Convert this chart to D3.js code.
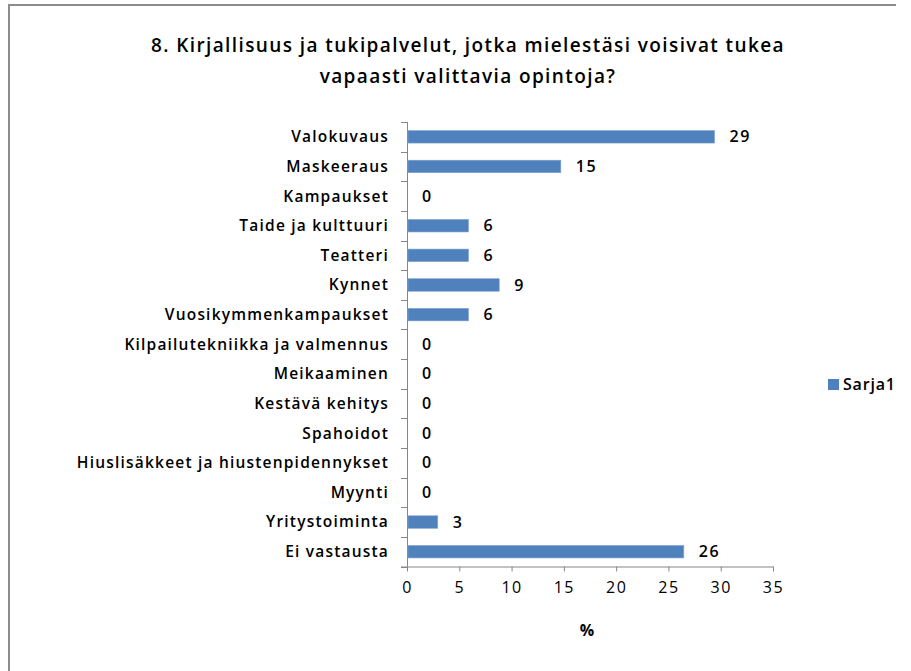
<!DOCTYPE html>
<html>
<head>
<meta charset="utf-8">
<script src="https://cdn.jsdelivr.net/npm/d3@7"></script>
<style>
  body { margin: 0; background: #fff; }
  svg { font-family: "Open Sans", Lato, sans-serif; }
</style>
</head>
<body>
<svg width="911" height="671"></svg>
<script>
// categories, top to bottom
var categories = ["Valokuvaus", "Maskeeraus", "Kampaukset", "Taide ja kulttuuri", "Teatteri",
  "Kynnet", "Vuosikymmenkampaukset", "Kilpailutekniikka ja valmennus", "Meikaaminen",
  "Kestävä kehitys", "Spahoidot", "Hiuslisäkkeet ja hiustenpidennykset", "Myynti",
  "Yritystoiminta", "Ei vastausta"];
// Sarja1, percent
var values = [29.41, 14.71, 0, 5.88, 5.88, 8.82, 5.88, 0, 0, 0, 0, 0, 0, 2.94, 26.47];
var xTicks = [0, 5, 10, 15, 20, 25, 30, 35];
var seriesName = "Sarja1";
var title = ["8. Kirjallisuus ja tukipalvelut, jotka mielestäsi voisivat tukea", "vapaasti valittavia opintoja?"];

var data = categories.map(function (c, i) { return {cat: c, val: values[i]}; });

var margin = {top: 122, left: 407};
var width = 366, height = 444.5;
var axisColor = "#868686";

var svg = d3.select("svg");

// frame
svg.append("path")
  .attr("d", "M9,671 V5 H896")
  .attr("fill", "none")
  .attr("stroke", "#8c8c8c")
  .attr("stroke-width", 2);

// title
svg.append("text")
  .attr("text-anchor", "middle")
  .attr("font-weight", 600)
  .attr("font-size", 19)
  .attr("letter-spacing", 1.4)
  .selectAll("tspan")
  .data(title)
  .enter().append("tspan")
    .attr("x", 468)
    .attr("y", function (d, i) { return 52 + i * 31; })
    .text(function (d) { return d; });

var x = d3.scaleLinear().domain([0, 35]).range([0, width]);
var y = d3.scaleBand().domain(categories).range([0, height]);

var main = svg.append("g")
  .attr("transform", "translate(" + margin.left + "," + margin.top + ")");

// x axis
var xAxis = main.append("g")
  .attr("transform", "translate(0," + height + ")")
  .call(d3.axisBottom(x).tickValues(xTicks).tickSize(5).tickSizeOuter(0).tickPadding(10));
xAxis.select(".domain").attr("stroke", axisColor).attr("d", "M-6,0.5H" + (width + 0.5));
xAxis.selectAll(".tick line").attr("stroke", axisColor);
xAxis.selectAll(".tick text")
  .attr("font-size", 16)
  .attr("letter-spacing", 1.5)
  .attr("font-family", "'Open Sans', sans-serif")
  .attr("fill", "#000");

// y axis, ticks at band boundaries
var yAxisG = main.append("g");
yAxisG.append("line")
  .attr("x1", 0.5).attr("x2", 0.5)
  .attr("y1", 0).attr("y2", height)
  .attr("stroke", axisColor);
yAxisG.selectAll("line.bt")
  .data(d3.range(categories.length + 1))
  .enter().append("line")
    .attr("class", "bt")
    .attr("x1", -6).attr("x2", 0)
    .attr("y1", function (i) { return Math.round(i * y.step()) + 0.5; })
    .attr("y2", function (i) { return Math.round(i * y.step()) + 0.5; })
    .attr("stroke", axisColor);
yAxisG.selectAll("text")
  .data(categories)
  .enter().append("text")
    .attr("x", -18)
    .attr("y", function (d) { return y(d) + y.bandwidth() / 2; })
    .attr("dy", "0.35em")
    .attr("text-anchor", "end")
    .attr("font-size", 15.5)
    .attr("font-weight", 600)
    .attr("letter-spacing", 1.2)
    .attr("fill", "#000")
    .text(function (d) { return d; });

// bars
var barH = 12.5;
main.selectAll("rect.bar")
  .data(data.filter(function (d) { return d.val > 0; }))
  .enter().append("rect")
    .attr("class", "bar")
    .attr("x", 1)
    .attr("y", function (d) { return y(d.cat) + y.bandwidth() / 2 - barH / 2; })
    .attr("width", function (d) { return x(d.val) - 1; })
    .attr("height", barH)
    .attr("fill", "#4f81bd")
    .attr("stroke", "#7fa3d0")
    .attr("stroke-width", 0.6);

// value labels
main.selectAll("text.val")
  .data(data)
  .enter().append("text")
    .attr("class", "val")
    .attr("x", function (d) { return x(d.val) + 15; })
    .attr("y", function (d) { return y(d.cat) + y.bandwidth() / 2; })
    .attr("dy", "0.35em")
    .attr("font-size", 16)
    .attr("font-weight", 600)
    .attr("letter-spacing", 1.5)
    .attr("fill", "#000")
    .text(function (d) { return d3.format(".0f")(d.val); });

// x axis title
svg.append("text")
  .attr("x", margin.left + x(17.5) - 3)
  .attr("y", 636)
  .attr("text-anchor", "middle")
  .attr("font-size", 16)
  .attr("font-weight", "bold")
  .text("%");

// legend
var legend = svg.append("g").attr("transform", "translate(828,379)");
legend.append("rect")
  .attr("width", 11).attr("height", 11)
  .attr("fill", "#4f81bd");
legend.append("text")
  .attr("x", 15).attr("y", 5.5)
  .attr("dy", "0.35em")
  .attr("font-size", 16)
  .attr("font-weight", 600)
  .attr("letter-spacing", 0.8)
  .text(seriesName);
</script>
</body>
</html>
